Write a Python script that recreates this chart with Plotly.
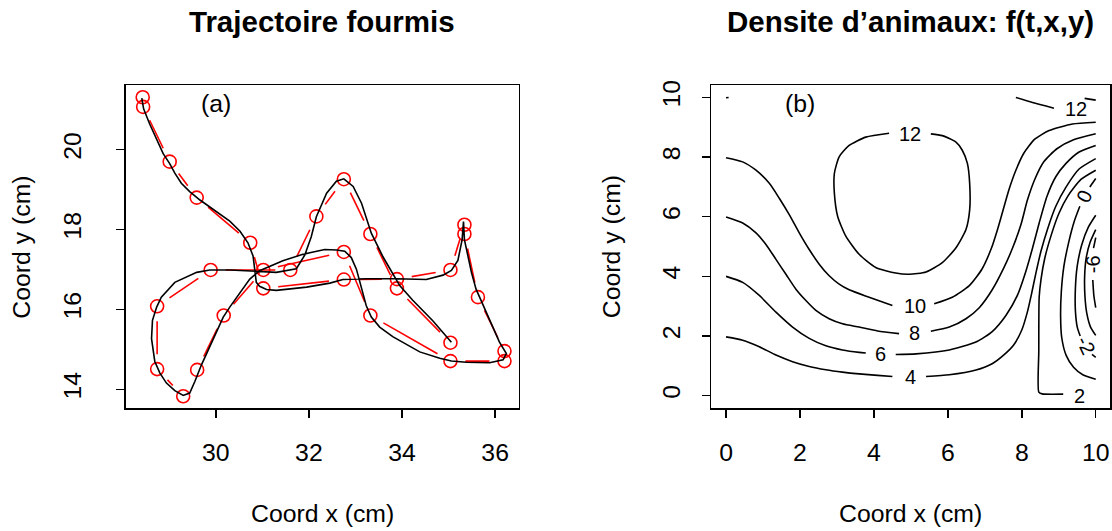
import math
import plotly.graph_objects as go

FONT = "Liberation Sans, Arial, Helvetica, sans-serif"
W, H = 1112, 531

# ---------------- Panel (a): ant trajectory ----------------
obs_x = [28.43, 28.44, 29.01, 29.59, 30.74, 31.02, 32.75, 33.89, 35.04, 35.34,
         35.34, 35.63, 36.20, 36.20, 35.04, 33.32, 32.75, 31.02, 30.17, 29.60,
         29.30, 28.74, 28.74, 29.89, 31.60, 32.16, 32.75, 33.32, 33.89, 35.04]
obs_y = [21.31, 21.07, 19.70, 18.80, 17.67, 16.53, 16.75, 16.76, 16.99, 18.12,
         17.89, 16.31, 14.96, 14.71, 14.71, 15.85, 17.44, 16.99, 15.85, 14.49,
         13.83, 14.51, 16.08, 16.99, 16.99, 18.33, 19.26, 17.89, 16.53, 15.17]

smooth_x = [28.41, 28.45, 28.58, 28.73, 28.87, 29.01, 29.12, 29.26, 29.44, 29.66,
            30.01, 30.30, 30.52, 30.69, 30.80, 30.84, 30.87, 30.94, 31.09, 31.30,
            31.95, 32.45, 32.73, 33.23, 33.88, 34.52, 34.88, 35.06, 35.20, 35.29,
            35.32, 35.34, 35.41, 35.49, 35.59, 35.74, 35.92, 36.09, 36.24, 36.17,
            35.88, 35.38, 35.06, 34.81, 34.38, 33.80, 33.52, 33.34, 33.23, 33.13,
            33.02, 32.91, 32.77, 32.59, 32.34, 32.02, 31.87, 31.44, 31.16, 30.94,
            30.73, 30.52, 30.30, 30.16, 30.01, 29.83, 29.69, 29.55, 29.44, 29.30,
            29.12, 28.94, 28.80, 28.69, 28.62, 28.64, 28.73, 28.83, 29.12, 29.59,
            29.87, 30.30, 30.87, 31.30, 31.73, 31.91, 32.05, 32.16, 32.38, 32.59,
            32.75, 32.95, 33.13, 33.34, 33.59, 33.80, 33.95, 34.23, 34.66, 35.06]
smooth_y = [21.29, 21.02, 20.64, 20.27, 19.90, 19.65, 19.41, 19.16, 18.95, 18.74,
            18.46, 18.21, 17.96, 17.67, 17.34, 17.01, 16.68, 16.58, 16.50, 16.48,
            16.56, 16.66, 16.75, 16.77, 16.77, 16.75, 16.86, 16.98, 17.23, 17.74,
            18.20, 17.75, 17.34, 16.93, 16.51, 16.10, 15.61, 15.19, 14.90, 14.74,
            14.67, 14.68, 14.71, 14.78, 14.94, 15.32, 15.56, 15.81, 16.10, 16.51,
            17.01, 17.30, 17.46, 17.49, 17.50, 17.42, 17.38, 17.22, 17.09, 16.97,
            16.76, 16.43, 16.06, 15.81, 15.44, 14.99, 14.61, 14.20, 13.91, 13.85,
            13.97, 14.16, 14.41, 14.70, 15.27, 15.73, 16.06, 16.31, 16.68, 16.93,
            16.99, 16.99, 16.95, 16.93, 17.02, 17.36, 17.82, 18.32, 18.91, 19.21,
            19.27, 19.08, 18.66, 17.91, 17.32, 16.90, 16.60, 16.23, 15.72, 15.18]

xa_ticks = [30, 32, 34, 36]
ya_ticks = [14, 16, 18, 20]

# ---------------- Panel (b): contour lines of f(t,x,y) ----------------
c12_loop_x = [4.41, 3.78, 3.33, 3.06, 2.93, 2.93, 3.02, 3.24, 3.60, 4.05, 4.59, 4.95,
              5.41, 5.85, 6.22, 6.49, 6.59, 6.59, 6.53, 6.39, 6.22, 5.85, 5.54]
c12_loop_y = [8.80, 8.67, 8.39, 8.01, 7.45, 6.79, 6.01, 5.35, 4.74, 4.30, 4.11, 4.07,
              4.15, 4.46, 4.96, 5.57, 6.23, 7.12, 7.78, 8.23, 8.50, 8.72, 8.78]
c12_corner_x = [0.0, 0.07]
c12_corner_y = [9.99, 10.0]
c12_top_x = [7.84, 8.29, 8.87]
c12_top_y = [10.0, 9.83, 9.64]
c12_edge_x = [9.70, 10.0]
c12_edge_y = [9.97, 9.91]

c10_left_x = [0.0, 0.45, 0.81, 1.17, 1.44, 1.71, 1.98, 2.25, 2.52, 2.79, 3.06, 3.33, 3.87, 4.50]
c10_left_y = [7.98, 7.84, 7.56, 7.12, 6.62, 6.07, 5.46, 4.90, 4.41, 4.02, 3.74, 3.55, 3.30, 3.02]
c10_right_x = [5.63, 6.12, 6.58, 6.92, 7.18, 7.35, 7.50, 7.65, 7.84, 8.05, 8.35, 8.74, 9.37, 10.0]
c10_right_y = [3.08, 3.30, 3.69, 4.24, 4.95, 5.60, 6.25, 6.90, 7.56, 8.12, 8.60, 8.89, 9.11, 9.17]

c8_left_x = [0.0, 0.45, 0.81, 1.08, 1.35, 1.62, 1.89, 2.16, 2.43, 2.79, 3.15, 3.60, 4.10, 4.68]
c8_left_y = [5.99, 5.79, 5.46, 5.07, 4.57, 4.07, 3.57, 3.19, 2.86, 2.58, 2.41, 2.30, 2.17, 2.08]
c8_right_x = [5.54, 6.04, 6.49, 6.85, 7.20, 7.50, 7.75, 7.98, 8.15, 8.35, 8.60, 8.95, 9.40, 10.0]
c8_right_y = [2.16, 2.30, 2.58, 2.95, 3.55, 4.25, 4.95, 5.75, 6.55, 7.25, 7.85, 8.28, 8.58, 8.78]

c6_left_x = [0.0, 0.45, 0.90, 1.35, 1.80, 2.25, 2.70, 3.15, 3.60, 3.78]
c6_left_y = [4.00, 3.80, 3.36, 2.80, 2.30, 1.92, 1.67, 1.53, 1.45, 1.43]
c6_right_x = [4.59, 5.14, 6.04, 6.76, 7.20, 7.57, 7.88, 8.10, 8.28, 8.47, 8.68, 8.92, 9.19, 9.55, 10.0]
c6_right_y = [1.38, 1.40, 1.53, 1.80, 2.15, 2.69, 3.36, 4.13, 4.90, 5.79, 6.68, 7.34, 7.78, 8.17, 8.39]

c4_left_x = [0.0, 0.45, 0.90, 1.35, 1.80, 2.25, 2.70, 3.15, 3.60, 4.10, 4.50]
c4_left_y = [1.97, 1.86, 1.64, 1.36, 1.14, 0.98, 0.87, 0.79, 0.73, 0.68, 0.64]
c4_right_x = [5.41, 6.04, 6.76, 7.21, 7.50, 7.78, 8.00, 8.15, 8.27, 8.38, 8.52, 8.70, 8.92, 9.20, 9.55, 10.0]
c4_right_y = [0.64, 0.70, 0.86, 1.08, 1.35, 1.70, 2.20, 2.80, 3.45, 4.10, 4.85, 5.60, 6.35, 7.00, 7.60, 7.95]

c2_x = [10.0, 9.60, 9.25, 9.00, 8.80, 8.62, 8.52, 8.47, 8.46, 8.46, 8.55, 9.12]
c2_y = [7.56, 7.25, 6.70, 6.10, 5.40, 4.60, 3.90, 3.30, 1.50, 0.12, 0.06, 0.05]

c0_top_x = [10.0, 9.84]
c0_top_y = [7.28, 7.00]
c0_low_x = [9.57, 9.42, 9.27, 9.14, 9.07, 9.05, 9.08, 9.20, 9.40, 9.65, 10.0]
c0_low_y = [6.35, 5.85, 5.15, 4.35, 3.50, 2.65, 1.95, 1.35, 0.95, 0.70, 0.55]

cm2_top_x = [10.0, 9.80, 9.62, 9.50, 9.45, 9.45, 9.50, 9.58]
cm2_top_y = [6.05, 5.65, 5.05, 4.35, 3.60, 2.85, 2.30, 2.00]
cm2_low_x = [9.90, 10.0]
cm2_low_y = [1.38, 1.28]

cm4_x = [10.0, 9.85, 9.74, 9.70, 9.71, 9.76, 9.86, 10.0]
cm4_y = [5.57, 5.15, 4.60, 4.00, 3.30, 2.75, 2.30, 2.02]

cm6_top_x = [10.0, 9.94]
cm6_top_y = [5.30, 4.95]
cm6_low_x = [9.92, 9.95, 10.0]
cm6_low_y = [3.88, 3.35, 2.95]

clabel_text = ["12", "10", "8", "6", "4", "2", "12", "0", "-6", "-2"]
clabel_x = [4.98, 5.11, 5.11, 4.19, 5.00, 9.55, 9.46, 9.70, 9.91, 9.73]
clabel_y = [8.78, 3.02, 2.10, 1.40, 0.64, 0.00, 9.60, 6.68, 4.42, 1.69]
clabel_angle = [0, 0, 0, 0, 0, 0, 0, -65, -90, 65]

xb_ticks = [0, 2, 4, 6, 8, 10]
yb_ticks = [0, 2, 4, 6, 8, 10]

# ---------------- layout geometry (pixels) ----------------
PA = (126, 519, 81, 407)     # left, right, top, bottom
PB = (712, 1111, 81, 407)
XA_RANGE = [28.069, 36.502]
YA_RANGE = [13.532, 21.611]
XB_RANGE = [-0.397, 10.386]
YB_RANGE = [-0.42, 10.41]
GAP = 15.0   # R type="b" gap around points, px


def dom_x(p):
    return [p[0] / W, p[1] / W]


def dom_y(p):
    return [1 - p[3] / H, 1 - p[2] / H]


def gapped(xs, ys, xr, yr, pane, gap):
    sx = (pane[1] - pane[0]) / (xr[1] - xr[0])
    sy = (pane[3] - pane[2]) / (yr[1] - yr[0])
    X, Y = [], []
    for i in range(len(xs) - 1):
        ddx, ddy = xs[i + 1] - xs[i], ys[i + 1] - ys[i]
        d = math.hypot(ddx * sx, ddy * sy)
        if d <= 2 * gap:
            continue
        f = gap / d
        X += [xs[i] + ddx * f, xs[i + 1] - ddx * f, None]
        Y += [ys[i] + ddy * f, ys[i + 1] - ddy * f, None]
    return X, Y


fig = go.Figure()

# Panel (a)
gx, gy = gapped(obs_x, obs_y, XA_RANGE, YA_RANGE, PA, GAP)
fig.add_trace(go.Scatter(x=gx, y=gy, mode="lines", line=dict(color="#FF0000", width=1.6),
                         xaxis="x", yaxis="y", hoverinfo="skip", showlegend=False))
fig.add_trace(go.Scatter(x=obs_x, y=obs_y, mode="markers",
                         marker=dict(symbol="circle-open", size=13, color="#FF0000",
                                     line=dict(width=1.6, color="#FF0000")),
                         xaxis="x", yaxis="y", showlegend=False))
fig.add_trace(go.Scatter(x=smooth_x, y=smooth_y, mode="lines", line=dict(color="black", width=1.6),
                         xaxis="x", yaxis="y", hoverinfo="skip", showlegend=False))

# Panel (b)
pieces = [
    (c12_loop_x, c12_loop_y), (c12_corner_x, c12_corner_y), (c12_top_x, c12_top_y),
    (c12_edge_x, c12_edge_y), (c10_left_x, c10_left_y), (c10_right_x, c10_right_y),
    (c8_left_x, c8_left_y), (c8_right_x, c8_right_y), (c6_left_x, c6_left_y),
    (c6_right_x, c6_right_y), (c4_left_x, c4_left_y), (c4_right_x, c4_right_y),
    (c2_x, c2_y), (c0_top_x, c0_top_y), (c0_low_x, c0_low_y),
    (cm2_top_x, cm2_top_y), (cm2_low_x, cm2_low_y), (cm4_x, cm4_y),
    (cm6_top_x, cm6_top_y), (cm6_low_x, cm6_low_y),
]
for px_, py_ in pieces:
    fig.add_trace(go.Scatter(x=px_, y=py_, mode="lines",
                             line=dict(color="black", width=1.6, shape="spline", smoothing=0.6),
                             xaxis="x2", yaxis="y2", hoverinfo="skip", showlegend=False))

axis_common = dict(showline=True, mirror=True, linecolor="black", linewidth=1.5,
                   ticks="outside", ticklen=8, tickwidth=1.5, tickcolor="black",
                   showgrid=False, zeroline=False, fixedrange=True,
                   tickfont=dict(family=FONT, size=24.8, color="black"))

fig.update_layout(
    width=W, height=H, margin=dict(l=0, r=0, t=0, b=0),
    paper_bgcolor="white", plot_bgcolor="white", showlegend=False,
    xaxis=dict(domain=dom_x(PA), range=XA_RANGE, tickmode="array", tickvals=xa_ticks,
               anchor="y", ticklabelstandoff=14, **axis_common),
    yaxis=dict(domain=dom_y(PA), range=YA_RANGE, tickmode="array", tickvals=ya_ticks,
               anchor="x", tickangle=-90, ticklabelstandoff=25, **axis_common),
    xaxis2=dict(domain=dom_x(PB), range=XB_RANGE, tickmode="array", tickvals=xb_ticks,
                anchor="y2", ticklabelstandoff=14, **axis_common),
    yaxis2=dict(domain=dom_y(PB), range=YB_RANGE, tickmode="array", tickvals=yb_ticks,
                anchor="x2", tickangle=-90, ticklabelstandoff=12, **axis_common),
)

ann = []
# contour labels
for t, x, y, a in zip(clabel_text, clabel_x, clabel_y, clabel_angle):
    ann.append(dict(text=t, x=x, y=y, xref="x2", yref="y2", showarrow=False, textangle=a,
                    font=dict(family=FONT, size=20, color="black"),
                    xanchor="center", yanchor="middle"))
# panel tags
ann.append(dict(text="(a)", x=30, y=21.15, xref="x", yref="y", showarrow=False,
                font=dict(family=FONT, size=24.8, color="black")))
ann.append(dict(text="(b)", x=2, y=9.8, xref="x2", yref="y2", showarrow=False,
                font=dict(family=FONT, size=24.8, color="black")))
# titles
for pane, title, yoff in [(PA, "Trajectoire fourmis", 104), (PB, "Densite d\u2019animaux: f(t,x,y)", 100)]:
    cx = (pane[0] + pane[1]) / 2 / W
    ann.append(dict(text="<b>" + title + "</b>", x=cx, y=1 - 17 / H, xref="paper", yref="paper",
                    showarrow=False, xanchor="center", yanchor="middle",
                    font=dict(family=FONT, size=29.5, color="black")))
    ann.append(dict(text="Coord x (cm)", x=cx, y=1 - 513 / H, xref="paper", yref="paper",
                    showarrow=False, xanchor="center", yanchor="middle",
                    font=dict(family=FONT, size=24.8, color="black")))
    cy = 1 - (pane[2] + pane[3]) / 2 / H
    ann.append(dict(text="Coord y (cm)", x=(pane[0] - yoff) / W, y=cy, xref="paper", yref="paper",
                    showarrow=False, xanchor="center", yanchor="middle", textangle=-90,
                    font=dict(family=FONT, size=24.8, color="black")))
fig.update_layout(annotations=ann)

fig.write_html(
    "out.html",
    config={"displayModeBar": False, "staticPlot": True},
    post_script="document.body.style.margin='0px';document.body.style.padding='0px';"
                "document.body.style.overflow='hidden';",
)
